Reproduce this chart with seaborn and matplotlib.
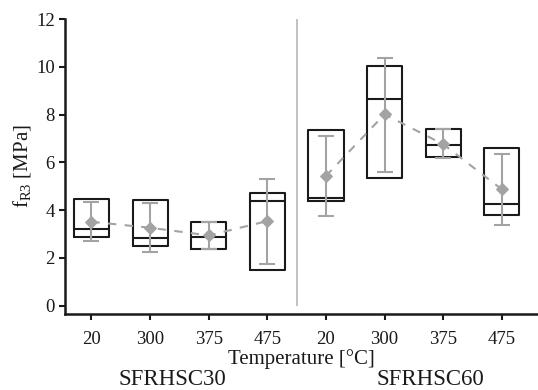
import matplotlib
matplotlib.use("Agg")
import matplotlib.pyplot as plt
import seaborn as sns
import numpy as np
import pandas as pd

sns.set_theme(style="ticks")
plt.rcParams['font.family'] = ['Liberation Serif', 'DejaVu Serif']
plt.rcParams['mathtext.fontset'] = 'custom'
plt.rcParams['mathtext.rm'] = 'Liberation Serif'
plt.rcParams['mathtext.it'] = 'Liberation Serif:italic'

# data
groups = ["SFRHSC30", "SFRHSC60"]
temps = ["20", "300", "375", "475", "20", "300", "375", "475"]
q1 = [2.88, 2.50, 2.38, 1.48, 4.39, 5.34, 6.22, 3.79]
med = [3.20, 2.84, 2.87, 4.39, 4.50, 8.66, 6.73, 4.25]
q3 = [4.45, 4.42, 3.52, 4.73, 7.34, 10.04, 7.39, 6.59]
mean = [3.51, 3.26, 2.94, 3.54, 5.43, 8.01, 6.76, 4.87]
err_lo = [2.69, 2.25, 2.39, 1.75, 3.76, 5.59, 6.18, 3.37]
err_hi = [4.33, 4.28, 3.52, 5.32, 7.10, 10.39, 7.39, 6.37]

pos = np.arange(len(temps))
df = pd.DataFrame({"pos": pos, "mean": mean})

fig, ax = plt.subplots(figsize=(5.38, 3.9), dpi=100)
fig.subplots_adjust(left=0.121, right=0.998, bottom=0.195, top=0.951)

black = "#1a1a1a"
grey = "#a3a3a3"

stats = [dict(q1=a, med=m, q3=b, whislo=a, whishi=b, fliers=[])
         for a, m, b in zip(q1, med, q3)]
ax.bxp(stats, positions=pos, widths=0.6, showcaps=False, showfliers=False,
       boxprops=dict(color=black, linewidth=1.5),
       medianprops=dict(color=black, linewidth=1.5),
       whiskerprops=dict(linewidth=0), manage_ticks=False)

# mean +/- error bars
yerr = [np.array(mean) - np.array(err_lo), np.array(err_hi) - np.array(mean)]
ax.errorbar(pos, mean, yerr=yerr, fmt="none", ecolor=grey, elinewidth=1.5,
            capsize=6, capthick=1.5, zorder=3)

# dashed mean line per group
for g in range(2):
    sub = df.iloc[g * 4:(g + 1) * 4]
    sns.lineplot(data=sub, x="pos", y="mean", ax=ax, color=grey,
                 linestyle=(0, (4, 4)), linewidth=1.5, marker="D",
                 markersize=6, markeredgecolor=grey, zorder=4)

ax.vlines(3.5, 0, 12, color="#b8b8b8", linewidth=1.2)

ax.set_xlim(-0.45, 7.6)
ax.set_ylim(-0.35, 12)
ax.set_yticks(range(0, 13, 2))
ax.set_xticks(pos)
ax.set_xticklabels(temps)
ax.tick_params(labelsize=13.5, length=4, width=1.5, color=black, labelcolor=black)
ax.tick_params(axis="x", pad=8)
for s in ["left", "bottom"]:
    ax.spines[s].set_linewidth(1.8)
    ax.spines[s].set_color(black)
sns.despine(ax=ax)

ax.set_xlabel("Temperature [°C]", fontsize=15, labelpad=1, color=black)
ax.set_ylabel(r"f$_{\mathrm{R3}}$ [MPa]", fontsize=15, labelpad=2, color=black)

fig.text(0.32, 0.026, groups[0], fontsize=16.5, ha="center", va="center", color=black)
fig.text(0.80, 0.026, groups[1], fontsize=16.5, ha="center", va="center", color=black)

fig.savefig("out.png", dpi=100)
